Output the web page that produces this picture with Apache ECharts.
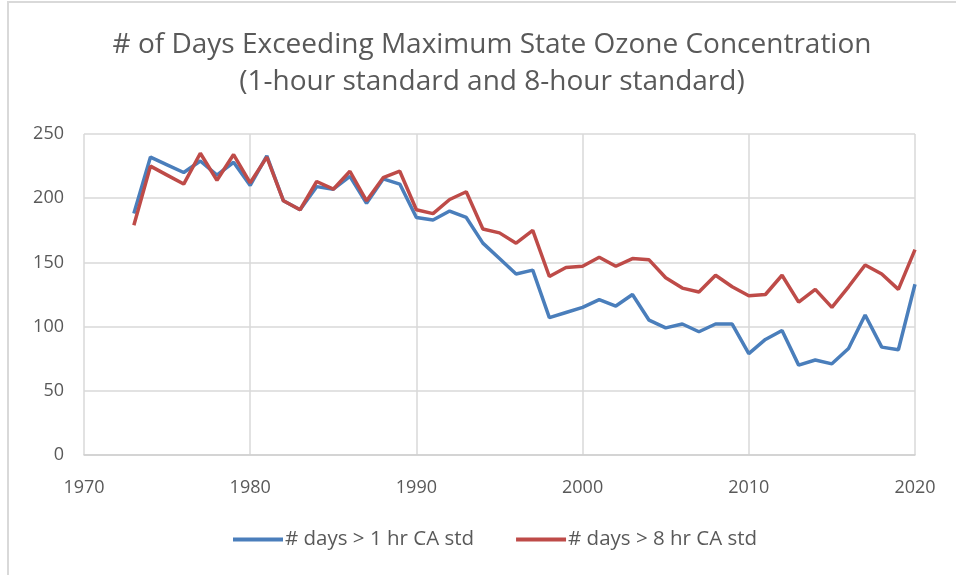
<!DOCTYPE html>
<html>
<head>
<meta charset="utf-8">
<script src="https://cdn.jsdelivr.net/npm/echarts@6/dist/echarts.min.js"></script>
<style>
  html, body { margin: 0; padding: 0; background: #fff; }
  #chart { width: 956px; height: 575px; }
</style>
</head>
<body>
<div id="chart"></div>
<script>
// 数据
const years = [1973, 1974, 1975, 1976, 1977, 1978, 1979, 1980, 1981, 1982, 1983, 1984, 1985, 1986, 1987, 1988, 1989,
  1990, 1991, 1992, 1993, 1994, 1995, 1996, 1997, 1998, 1999, 2000, 2001, 2002, 2003, 2004, 2005, 2006, 2007, 2008,
  2009, 2010, 2011, 2012, 2013, 2014, 2015, 2016, 2017, 2018, 2019, 2020];
const days1hr = [188, 232, 226, 220, 229, 218, 228, 210, 233, 198, 191, 209, 207, 217, 196, 215, 211,
  185, 183, 190, 185, 165, 153, 141, 144, 107, 111, 115, 121, 116, 125, 105, 99, 102, 96, 102,
  102, 79, 90, 97, 70, 74, 71, 83, 109, 84, 82, 133];
const days8hr = [179, 225, 218, 211, 235, 214, 234, 212, 232, 198, 191, 213, 207, 221, 198, 216, 221,
  191, 188, 199, 205, 176, 173, 165, 175, 139, 146, 147, 154, 147, 153, 152, 138, 130, 127, 140,
  131, 124, 125, 140, 119, 129, 115, 131, 148, 141, 129, 160];
const seriesNames = ['# days > 1 hr CA std', '# days > 8 hr CA std'];
const titleLines = ['# of Days Exceeding Maximum State Ozone Concentration', '(1-hour standard and 8-hour standard)'];

const textColor = '#595959';
const fontFamily = '"Open Sans", "Noto Sans", sans-serif';

const chart = echarts.init(document.getElementById('chart'));
const option = {
  backgroundColor: '#fff',
  textStyle: { fontFamily: fontFamily },
  // 外边框
  graphic: [{
    type: 'rect',
    shape: { x: 8, y: 2, width: 1000, height: 700 },
    style: { fill: 'none', stroke: '#d9d9d9', lineWidth: 2 },
    silent: true
  }],
  title: {
    text: titleLines.join('\n'),
    left: 487,
    textAlign: 'center',
    top: 22,
    textStyle: {
      color: textColor,
      fontSize: 28,
      fontWeight: 'normal',
      lineHeight: 37,
      fontFamily: fontFamily
    }
  },
  legend: {
    bottom: 20,
    left: 228,
    itemWidth: 50,
    itemHeight: 4,
    itemGap: 42,
    icon: 'rect',
    textStyle: { color: textColor, fontSize: 20.5, fontFamily: fontFamily, padding: [0, 0, 0, -3] },
    data: seriesNames
  },
  grid: {
    left: 84,
    right: 41,
    top: 134,
    bottom: 120
  },
  xAxis: {
    type: 'value',
    min: 1970,
    max: 2020,
    interval: 10,
    axisLine: { show: true, lineStyle: { color: '#d0d0d0', width: 1.5 } },
    axisTick: { show: false },
    axisLabel: { color: textColor, fontSize: 18, margin: 24, formatter: v => String(v) },
    splitLine: { show: true, lineStyle: { color: '#d9d9d9', width: 1.5 } }
  },
  yAxis: {
    type: 'value',
    min: 0,
    max: 250,
    interval: 50,
    axisLine: { show: false },
    axisTick: { show: false },
    axisLabel: { color: textColor, fontSize: 18, margin: 20 },
    splitLine: { show: true, lineStyle: { color: '#d9d9d9', width: 1.5 } }
  },
  series: [{
    name: seriesNames[0],
    type: 'line',
    data: years.map((y, i) => [y, days1hr[i]]),
    showSymbol: false,
    lineStyle: { color: '#4A7EBB', width: 3.5 },
    itemStyle: { color: '#4A7EBB' }
  }, {
    name: seriesNames[1],
    type: 'line',
    data: years.map((y, i) => [y, days8hr[i]]),
    showSymbol: false,
    lineStyle: { color: '#BE4B48', width: 3.5 },
    itemStyle: { color: '#BE4B48' }
  }]
};
chart.setOption(option);
</script>
</body>
</html>
